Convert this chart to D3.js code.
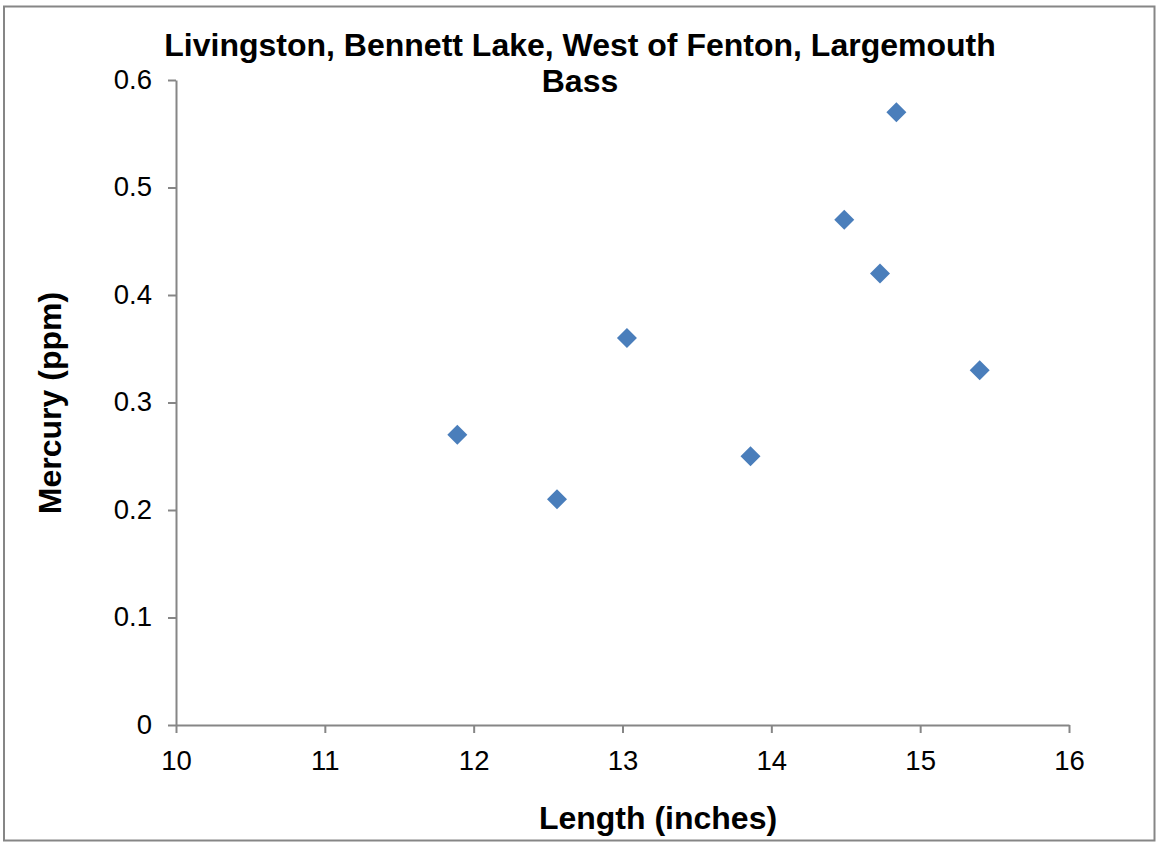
<!DOCTYPE html>
<html>
<head>
<meta charset="utf-8">
<script src="https://d3js.org/d3.v7.min.js"></script>
<style>
  body { margin: 0; background: #fff; }
  svg { display: block; }
</style>
</head>
<body>
<div id="chart"></div>
<script>
// Fish length (inches) vs mercury (ppm)
const lengths = [11.89, 12.56, 13.03, 13.86, 14.49, 14.73, 14.84, 15.40];
const mercury = [0.27, 0.21, 0.36, 0.25, 0.47, 0.42, 0.57, 0.33];
const xTicks = [10, 11, 12, 13, 14, 15, 16];
const yTicks = [0, 0.1, 0.2, 0.3, 0.4, 0.5, 0.6];
const titleLines = ['Livingston, Bennett Lake, West of Fenton, Largemouth', 'Bass'];

const width = 1156, height = 842;
const margin = { top: 80, right: 87, bottom: 117, left: 176 };
const font = 'Liberation Sans, Arial, sans-serif';
const axisColor = '#868686';

const svg = d3.select('#chart')
    .append('svg')
    .attr('width', width)
    .attr('height', height);

// outer chart border
svg.append('rect')
    .attr('x', 4)
    .attr('y', 6.5)
    .attr('width', 1150.5)
    .attr('height', 834)
    .attr('fill', 'none')
    .attr('stroke', axisColor)
    .attr('stroke-width', 2);

const x = d3.scaleLinear()
    .domain([10, 16])
    .range([margin.left, width - margin.right]);

const y = d3.scaleLinear()
    .domain([0, 0.6])
    .range([height - margin.bottom, margin.top]);

// x axis
const xAxis = svg.append('g')
    .attr('transform', `translate(0,${y(0)})`)
    .call(d3.axisBottom(x).tickValues(xTicks).tickFormat(d3.format('d')).tickSize(8).tickSizeOuter(0));

// y axis
const yAxis = svg.append('g')
    .attr('transform', `translate(${x(10)},0)`)
    .call(d3.axisLeft(y).tickValues(yTicks).tickFormat(d => d === 0 ? '0' : d3.format('.1f')(d)).tickSize(8).tickSizeOuter(0));

[xAxis, yAxis].forEach(ax => {
    ax.select('.domain').attr('stroke', axisColor).attr('stroke-width', 2);
    ax.selectAll('.tick line').attr('stroke', axisColor).attr('stroke-width', 2);
    ax.selectAll('.tick text')
        .style('font-family', font)
        .style('font-size', '27.5px')
        .attr('fill', '#000');
});
xAxis.selectAll('.tick text').attr('y', 45).attr('dy', 0);
yAxis.selectAll('.tick text').attr('x', -24).attr('dy', '0.3em');

// markers: rotated squares
svg.append('g')
    .selectAll('path')
    .data(lengths.map((l, i) => ({ l, m: mercury[i] })))
    .join('path')
    .attr('transform', d => `translate(${x(d.l)},${y(d.m)}) rotate(45)`)
    .attr('d', d3.symbol().type(d3.symbolSquare).size(200))
    .attr('fill', '#4a7ebb');

// title
svg.append('text')
    .attr('text-anchor', 'middle')
    .style('font-family', font)
    .style('font-size', '32px')
    .style('font-weight', 'bold')
    .selectAll('tspan')
    .data(titleLines)
    .join('tspan')
    .attr('x', 580)
    .attr('y', (d, i) => 56 + i * 36)
    .text(d => d);

// axis titles
svg.append('text')
    .attr('x', 658)
    .attr('y', 829)
    .attr('text-anchor', 'middle')
    .style('font-family', font)
    .style('font-size', '32px')
    .style('font-weight', 'bold')
    .text('Length (inches)');

svg.append('text')
    .attr('transform', `translate(61,403) rotate(-90)`)
    .attr('text-anchor', 'middle')
    .style('font-family', font)
    .style('font-size', '32px')
    .style('font-weight', 'bold')
    .text('Mercury (ppm)');
</script>
</body>
</html>
